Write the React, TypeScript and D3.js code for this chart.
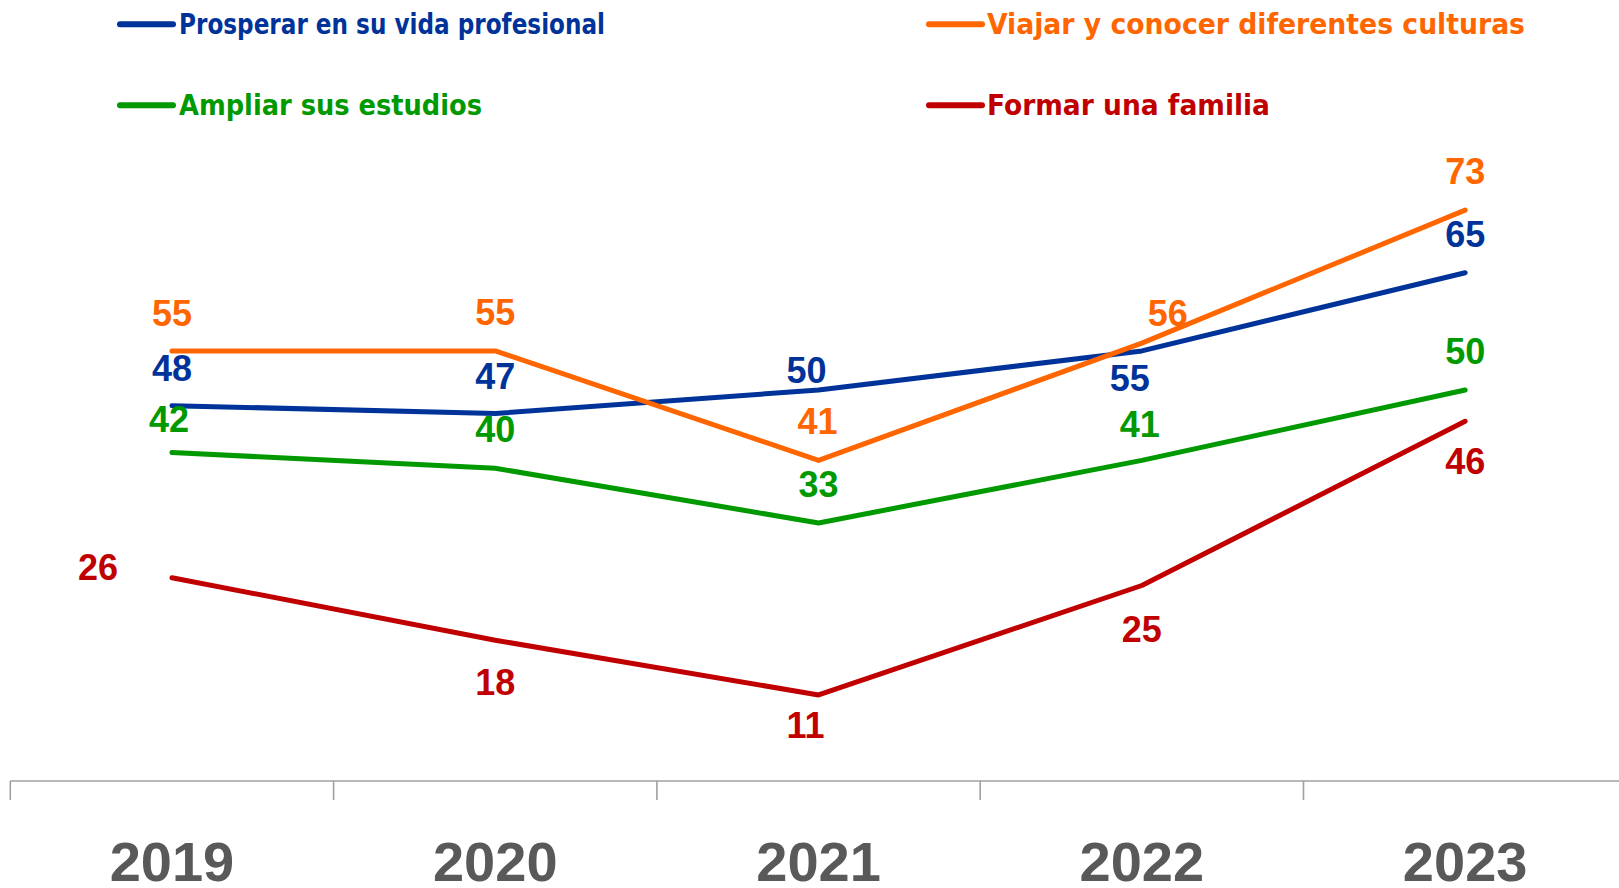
import React from "react";
import * as d3 from "d3";

const years = ["2019", "2020", "2021", "2022", "2023"];
const prosperar = [48, 47, 50, 55, 65];
const viajar = [55, 55, 41, 56, 73];
const ampliar = [42, 40, 33, 41, 50];
const formar = [26, 18, 11, 25, 46];
const seriesNames = [
  "Prosperar en su vida profesional",
  "Viajar y conocer diferentes culturas",
  "Ampliar sus estudios",
  "Formar una familia",
];

// label offsets (px) from each point to label center
const offProsperar = [[0, -38], [0, -37], [-12, -20], [-12, 27], [0, -39]];
const offViajar = [[0, -38], [0, -39], [-1, -39], [26, -30], [0, -39]];
const offAmpliar = [[-3, -34], [0, -39], [0, -39], [-2, -36], [0, -39]];
const offFormar = [[-74, -11], [0, 42], [-13, 30], [0, 43], [0, 40]];

const W = 1619;
const H = 888;

export default function App() {
  const x = d3.scaleBand<string>().domain(years).range([10.3, 10.3 + 5 * 323.3]).padding(0);
  const y = d3.scaleLinear().domain([0, 100]).range([781, -1]);
  const cx = (yr: string) => (x(yr) as number) + x.bandwidth() / 2;

  const series = [
    { name: seriesNames[0], values: prosperar, color: "#003399", off: offProsperar },
    { name: seriesNames[1], values: viajar, color: "#FF6600", off: offViajar },
    { name: seriesNames[2], values: ampliar, color: "#009900", off: offAmpliar },
    { name: seriesNames[3], values: formar, color: "#C00000", off: offFormar },
  ];

  const line = d3
    .line<number>()
    .x((_, i) => cx(years[i]))
    .y((v) => y(v));

  const legendPos = [
    { lx: 120, ly: 24.3, tx: 179, by: 34, w: 426 },
    { lx: 929, ly: 24.3, tx: 987, by: 34, w: 538 },
    { lx: 120, ly: 105.3, tx: 179, by: 115, w: 303 },
    { lx: 929, ly: 105.3, tx: 987, by: 115, w: 283 },
  ];

  const tickXs = years.map((yr) => x(yr) as number);

  return (
    <svg
      width={W}
      height={H}
      style={{ position: "absolute", left: 0, top: 0, background: "#fff" }}
    >
      {/* legend */}
      {series.map((s, i) => {
        const p = legendPos[i];
        return (
          <g key={"lg" + i}>
            <line
              x1={p.lx}
              x2={p.lx + 53}
              y1={p.ly}
              y2={p.ly}
              stroke={s.color}
              strokeWidth={6}
              strokeLinecap="round"
            />
            <text
              x={p.tx}
              y={p.by}
              fill={s.color}
              fontFamily="'DejaVu Sans Condensed', 'DejaVu Sans', sans-serif"
              fontStretch="condensed"
              fontWeight="bold"
              fontSize={28}
              textLength={p.w}
              lengthAdjust="spacingAndGlyphs"
            >
              {s.name}
            </text>
          </g>
        );
      })}

      {/* axis */}
      <line x1={10.3} x2={W} y1={781} y2={781} stroke="#a0a0a0" strokeWidth={1.6} />
      {tickXs.map((tx, i) => (
        <line key={"t" + i} x1={tx} x2={tx} y1={781} y2={800} stroke="#a0a0a0" strokeWidth={1.6} />
      ))}
      {years.map((yr) => (
        <text
          key={yr}
          x={cx(yr)}
          y={881}
          textAnchor="middle"
          fill="#595959"
          fontFamily="'Liberation Sans', Arial, sans-serif"
          fontWeight="bold"
          fontSize={56}
        >
          {yr}
        </text>
      ))}

      {/* lines */}
      {series.map((s, i) => (
        <path
          key={"l" + i}
          d={line(s.values) as string}
          fill="none"
          stroke={s.color}
          strokeWidth={5}
          strokeLinecap="round"
          strokeLinejoin="round"
        />
      ))}

      {/* labels */}
      {series.map((s, i) =>
        s.values.map((v, j) => (
          <text
            key={"v" + i + "-" + j}
            x={cx(years[j]) + s.off[j][0]}
            y={y(v) + s.off[j][1] + 13}
            textAnchor="middle"
            fill={s.color}
            fontFamily="'Liberation Sans', Arial, sans-serif"
            fontWeight="bold"
            fontSize={36}
          >
            {v}
          </text>
        ))
      )}
    </svg>
  );
}
